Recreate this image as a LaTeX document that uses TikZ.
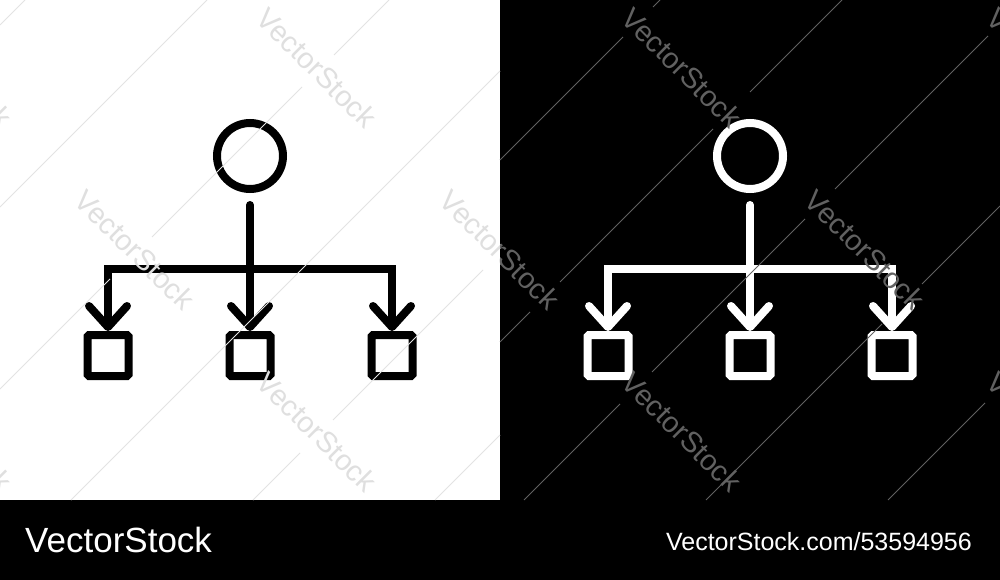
\documentclass[tikz,border=0pt]{standalone}
\usepackage{fontspec}
\setmainfont{Liberation Sans}
\usetikzlibrary{arrows.meta, positioning}

\begin{document}
\begin{tikzpicture}[x=1pt, y=-1pt,
    topnode/.style={circle, draw, line width=8pt, minimum size=66pt, inner sep=0pt},
    leafbox/.style={rectangle, draw, line width=8pt, minimum size=41pt, inner sep=0pt, rounded corners=1.5pt},
    link/.style={line width=8pt, line cap=round, -{Straight Barb[length=21pt, width=38pt, round]}},
    wmline/.style={line width=0.9pt},
    wmtext/.style={rotate=-45, inner sep=0pt, font=\fontsize{29}{29}\selectfont}]

    % Backgrounds: white panel, black panel, black strip
    \fill[white] (0,0) rectangle (500,500);
    \fill[black] (500,0) rectangle (1000,580);
    \fill[black] (0,500) rectangle (500,580);
    \useasboundingbox (0,0) rectangle (1000,580);

    % Left icon - black on white
    \node[topnode, draw=black] (topL) at (250,156) {};
    \node[leafbox, draw=black] (boxL1) at (108,355.5) {};
    \node[leafbox, draw=black] (boxL2) at (250,355.5) {};
    \node[leafbox, draw=black] (boxL3) at (392,355.5) {};
    \coordinate (splitL) at (250,269);
    \draw[link, black, shorten <=12pt] (topL) -- (boxL2);
    \draw[link, black] (splitL) -| (boxL1);
    \draw[link, black] (splitL) -| (boxL3);

    % Right icon - white on black
    \node[topnode, draw=white] (topR) at (750,156) {};
    \node[leafbox, draw=white] (boxR1) at (608,355.5) {};
    \node[leafbox, draw=white] (boxR2) at (750,355.5) {};
    \node[leafbox, draw=white] (boxR3) at (892,355.5) {};
    \coordinate (splitR) at (750,269);
    \draw[link, white, shorten <=12pt] (topR) -- (boxR2);
    \draw[link, white] (splitR) -| (boxR1);
    \draw[link, white] (splitR) -| (boxR3);

    % Watermark lines
    \foreach \xa/\ya/\xb/\yb in {0/25/25/0, 0/207/207/0, 0/389/110/279, 152/237/302/87,
        334/55/389/0, 71/500/500/71, 253/500/300/453, 333/420/483/270, 435/500/500/435}
        \draw[wmline, gray!22] (\xa,\ya) -- (\xb,\yb);
    \foreach \xa/\ya/\xb/\yb in {500/160/623/37, 653/7/660/0, 500/342/530/312, 560/282/713/129,
        750/92/842/0, 524/500/620/404, 652/372/805/219, 835/189/988/36, 706/500/882/324,
        922/284/1000/206, 888/500/985/403}
        \draw[wmline, black!62] (\xa,\ya) -- (\xb,\yb);

    % Watermark text
    \begin{scope}
        \clip (0,0) rectangle (500,500);
        \foreach \x/\y [count=\i] in {-48/68, 317/68, 135/250, 500/250, -48/432, 317/432}
            \node[wmtext, text=gray!25] (wmL\i) at (\x,\y) {VectorStock};
    \end{scope}
    \begin{scope}
        \clip (500,0) rectangle (1000,500);
        \foreach \x/\y [count=\i] in {682/68, 1047/68, 500/250, 865/250, 682/432, 1047/432}
            \node[wmtext, text=black!62] (wmR\i) at (\x,\y) {VectorStock};
    \end{scope}

    % Bottom strip
    \node[anchor=base west, inner sep=0pt, text=white, font=\fontsize{35}{35}\selectfont] (brand) at (25,552) {VectorStock};
    \node[anchor=base east, inner sep=0pt, text=white, font=\fontsize{25}{25}\selectfont] (imgid) at (972,550) {VectorStock.com/53594956};
\end{tikzpicture}
\end{document}
